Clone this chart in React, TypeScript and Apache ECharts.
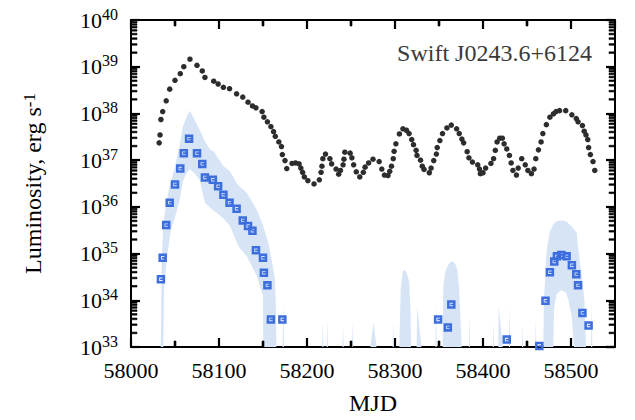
import React, { useEffect, useRef } from 'react';
import * as echarts from 'echarts';

// Black dots: [MJD, log10 L]
const batPoints: number[][] = [
  [58032, 37.37], [58033, 37.54], [58034, 37.87], [58036, 38.04], [58040, 38.27], [58044, 38.52],
  [58050, 38.71], [58056, 38.85], [58060, 39.0], [58067, 39.16], [58075, 39.03], [58081, 38.91],
  [58084, 38.77], [58094, 38.69], [58099, 38.63], [58105, 38.56], [58112, 38.53], [58120, 38.42],
  [58127, 38.35], [58133, 38.24], [58138, 38.16], [58142, 38.12], [58149, 38.04], [58151, 37.92],
  [58155, 37.82], [58159, 37.72], [58162, 37.61], [58164, 37.51], [58168, 37.39], [58171, 37.29],
  [58172, 37.12], [58175, 36.99], [58177, 36.82], [58183, 36.93], [58187, 36.94], [58191, 36.92],
  [58193, 36.83], [58195, 36.74], [58197, 36.64], [58201, 36.56], [58208, 36.49], [58214, 36.58],
  [58216, 36.74], [58217, 36.87], [58218, 37.03], [58221, 37.13], [58226, 37.03], [58228, 36.92],
  [58233, 36.81], [58236, 36.7], [58238, 36.78], [58241, 36.9], [58242, 37.02], [58243, 37.17],
  [58249, 37.15], [58251, 37.05], [58253, 36.9], [58256, 36.75], [58260, 36.64], [58264, 36.74],
  [58266, 36.85], [58270, 36.94], [58275, 37.02], [58282, 36.97], [58285, 36.81], [58288, 36.68],
  [58292, 36.67], [58294, 36.76], [58296, 36.87], [58298, 37.03], [58299, 37.19], [58301, 37.35],
  [58305, 37.56], [58309, 37.67], [58313, 37.64], [58316, 37.57], [58319, 37.44], [58321, 37.33],
  [58324, 37.21], [58325, 37.1], [58329, 37.0], [58331, 36.87], [58333, 36.8], [58339, 36.73],
  [58341, 36.83], [58344, 36.99], [58347, 37.13], [58348, 37.27], [58351, 37.42], [58354, 37.57],
  [58359, 37.69], [58364, 37.75], [58370, 37.67], [58373, 37.57], [58376, 37.45], [58378, 37.37],
  [58382, 37.18], [58384, 37.05], [58388, 36.96], [58394, 36.9], [58396, 36.81], [58397, 36.71],
  [58400, 36.73], [58403, 36.83], [58409, 36.93], [58412, 37.03], [58414, 37.21], [58416, 37.39],
  [58419, 37.47], [58422, 37.47], [58424, 37.35], [58427, 37.24], [58430, 37.1], [58432, 36.94],
  [58434, 36.78], [58438, 36.68], [58440, 36.83], [58444, 37.03], [58448, 36.9], [58451, 36.78],
  [58455, 36.71], [58458, 36.81], [58460, 37.03], [58463, 37.22], [58466, 37.39], [58468, 37.57],
  [58472, 37.76], [58476, 37.92], [58480, 37.99], [58483, 38.04], [58487, 38.06], [58494, 38.06],
  [58501, 37.97], [58506, 37.89], [58508, 37.82], [58513, 37.74], [58515, 37.62], [58517, 37.54],
  [58519, 37.44], [58520, 37.27], [58522, 37.12], [58525, 36.97], [58527, 36.78],
];

// Blue squares: [MJD, log10 L]
const sqPoints: number[][] = [
  [58034, 34.45], [58036, 34.91], [58040, 35.61], [58044, 36.09], [58050, 36.48], [58056, 36.82],
  [58060, 37.15], [58066, 37.46], [58075, 37.15], [58081, 36.92], [58084, 36.63], [58093, 36.58],
  [58099, 36.44], [58105, 36.26], [58112, 36.09], [58120, 35.96], [58127, 35.71], [58133, 35.59],
  [58138, 35.49], [58142, 35.07], [58150, 34.91], [58151, 34.59], [58155, 34.32], [58159, 33.59],
  [58172, 33.59], [58349, 33.59], [58360, 33.42], [58364, 33.91], [58427, 33.16], [58464, 33.02],
  [58471, 33.99], [58476, 34.6], [58481, 34.83], [58484, 34.94], [58489, 34.97], [58495, 34.94],
  [58501, 34.75], [58506, 34.56], [58508, 34.32], [58513, 33.73], [58520, 33.46],
];

// Confidence band regions: [MJD, log10 lower, log10 upper]
const bandMain: number[][] = [
  [58033.8, 33, 33], [58035.0, 33, 34.87], [58036.7, 33, 35.6], [58037.5, 34.23, 35.75],
  [58040.0, 34.75, 36.09], [58044.0, 35.37, 36.45], [58046.0, 35.55, 36.58], [58050.0, 35.78, 36.87],
  [58055.0, 36.12, 37.29], [58059.0, 36.55, 37.72], [58063.0, 36.72, 37.92], [58067.0, 36.81, 38.06],
  [58073.0, 36.7, 37.83], [58078.0, 36.58, 37.65], [58084.0, 36.09, 37.4], [58090.0, 35.98, 37.22],
  [58094.0, 35.92, 37.19], [58097.0, 35.88, 37.1], [58105.0, 35.75, 36.87], [58112.5, 35.59, 36.76],
  [58120.0, 35.25, 36.51], [58122.0, 35.16, 36.46], [58131.5, 34.94, 36.3], [58143.0, 34.52, 35.94],
  [58150.0, 34.09, 35.6], [58150.3, 33, 35.58], [58152.0, 33, 35.48], [58157.0, 33, 35.16],
  [58163.6, 33, 34.45], [58164.8, 33, 33.74], [58165.2, 33, 33],
];
const bandHump1: number[][] = [
  [58304.9, 33, 33], [58306.5, 33, 34.23], [58308.8, 33, 34.62], [58311.0, 33, 34.65],
  [58313.3, 33, 34.59], [58316.3, 33, 34.38], [58317.8, 33, 33.66], [58318.2, 33, 33],
];
const bandHump2: number[][] = [
  [58354.2, 33, 33], [58354.9, 33, 34.3], [58357.0, 33, 34.6], [58360.6, 33, 34.77],
  [58364.4, 33, 34.84], [58368.0, 33, 34.8], [58370.8, 33, 34.66], [58372.7, 33, 34.3], [58375.8, 33, 33],
];
const bandHump3: number[][] = [
  [58468.5, 33, 33], [58469.3, 33, 34.02], [58472.4, 33, 35.08], [58476.1, 33, 35.48],
  [58479.9, 33, 35.62], [58480.7, 33.81, 35.64], [58481.8, 33.95, 35.67], [58483.8, 34.13, 35.69],
  [58487.5, 34.2, 35.71], [58489.4, 34.22, 35.71], [58494.3, 34.16, 35.69], [58496.9, 34.02, 35.65],
  [58500.8, 33.66, 35.58], [58503.4, 33, 35.52], [58506.5, 33, 35.44], [58508.3, 33, 35.08],
  [58512.2, 33, 34.52], [58515.1, 33, 34.02], [58517.0, 33, 33],
];
const bandSmall: number[][][] = [
  [[58172.2, 33, 33], [58173.0, 33, 33.96], [58173.8, 33, 33]],
  [[58217.3, 33, 33], [58218.0, 33, 33.53], [58218.7, 33, 33]],
  [[58222.3, 33, 33], [58223.0, 33, 33.6], [58223.7, 33, 33]],
  [[58240.3, 33, 33], [58241.0, 33, 33.45], [58241.7, 33, 33]],
  [[58250.8, 33, 33], [58251.5, 33, 33.56], [58252.2, 33, 33]],
  [[58272.0, 33, 33], [58275.5, 33, 33.52], [58279.0, 33, 33]],
  [[58297.3, 33, 33], [58298.0, 33, 33.53], [58298.7, 33, 33]],
  [[58324.5, 33, 33], [58325.3, 33, 33.86], [58330.0, 33, 33]],
  [[58345.9, 33, 33], [58346.6, 33, 33.95], [58347.3, 33, 33]],
  [[58383.8, 33, 33], [58384.5, 33, 33.7], [58385.2, 33, 33]],
  [[58411.0, 33, 33], [58411.7, 33, 33.52], [58412.4, 33, 33]],
  [[58417.3, 33, 33], [58417.8, 33, 33.88], [58422.4, 33, 33]],
  [[58429.3, 33, 33], [58430.0, 33, 33.91], [58430.7, 33, 33]],
  [[58444.3, 33, 33], [58445.0, 33, 33.49], [58445.7, 33, 33]],
  [[58459.3, 33, 33], [58460.0, 33, 33.59], [58460.7, 33, 33]],
  [[58522.8, 33, 33], [58523.5, 33, 33.95], [58524.2, 33, 33]],
];

const xMajorTicks = [58000, 58100, 58200, 58300, 58400, 58500];
const xMinorTicks = [58050, 58150, 58250, 58350, 58450];
const yDecades = [33, 34, 35, 36, 37, 38, 39, 40];
const yMinorMultipliers = [2, 3, 4, 5, 6, 7, 8, 9];
const X_MIN = 58000;
const X_MAX = 58550;

const SERIF = '"Liberation Serif", "Times New Roman", serif';
const SQUARE_SYMBOL = 'path://M0 0H10V10H0Z M3 3V7H7V6H4V4H7V3Z';

export default function App() {
  const ref = useRef<HTMLDivElement>(null);
  useEffect(() => {
    if (!ref.current) return;
    const chart = echarts.init(ref.current, null, { renderer: 'svg' });
    const bandRegions = [bandMain, bandHump1, bandHump2, bandHump3, ...bandSmall];
    const yMinorExp: number[] = [];
    yDecades.slice(0, -1).forEach((d) => yMinorMultipliers.forEach((m) => yMinorExp.push(d + Math.log10(m))));
    const yMin = Math.pow(10, yDecades[0]);
    const yMax = Math.pow(10, yDecades[yDecades.length - 1]);

    const frame = () => ({ show: true, onZero: false, lineStyle: { color: '#000', width: 2 } });

    const tickRect = (x: number, y: number, w: number, h: number) => ({
      type: 'rect',
      shape: { x: Math.min(x, x + w), y: Math.min(y, y + h), width: Math.abs(w), height: Math.abs(h) },
      style: { fill: '#000', stroke: '#000', lineWidth: 0.6 },
    });

    const option: any = {
      animation: false,
      grid: { left: 131, right: 20, top: 20, bottom: 72 },
      graphic: [
        {
          type: 'text',
          x: 592,
          y: 53,
          style: {
            text: 'Swift J0243.6+6124',
            font: '24px "Liberation Serif"',
            fill: '#3a3a3a',
            align: 'right',
            textAlign: 'right',
            verticalAlign: 'middle',
            textVerticalAlign: 'middle',
          },
        },
      ],
      xAxis: [
        {
          type: 'value', min: X_MIN, max: X_MAX, interval: 100, position: 'bottom',
          splitLine: { show: false },
          axisLine: frame(),
          axisTick: { show: true, inside: true, length: 9, lineStyle: { color: '#000', width: 2.2 } },
          axisLabel: {
            show: true, showMaxLabel: false,
            formatter: (v: number) => String(v),
            fontSize: 22, color: '#000', margin: 12, fontFamily: SERIF,
          },
          name: 'MJD', nameLocation: 'middle', nameGap: 44,
          nameTextStyle: { fontSize: 24, color: '#000', fontFamily: SERIF },
        },
        {
          type: 'value', min: X_MIN, max: X_MAX, interval: 100, position: 'top',
          splitLine: { show: false }, axisLine: frame(), axisLabel: { show: false },
          axisTick: { show: true, inside: true, length: 9, lineStyle: { color: '#000', width: 2.2 } },
        },
      ],
      yAxis: [
        {
          type: 'log', logBase: 10, min: yMin, max: yMax, position: 'left',
          splitLine: { show: false },
          axisLine: frame(),
          axisTick: { show: true, inside: true, length: 9, lineStyle: { color: '#000', width: 2.2 } },
          axisLabel: {
            show: true, margin: 13,
            formatter: (v: number) => `{b|10}{s|${Math.round(Math.log10(v))}}`,
            rich: {
              b: { fontSize: 22, fontFamily: SERIF, color: '#000', lineHeight: 28 },
              s: { fontSize: 16, fontFamily: SERIF, color: '#000', lineHeight: 16, verticalAlign: 'top' },
            },
          },
          name: 'Luminosity, erg s{s|-1}', nameLocation: 'middle', nameRotate: 90, nameGap: 86,
          nameTextStyle: {
            fontSize: 24, color: '#000', fontFamily: SERIF,
            rich: { s: { fontSize: 17, fontFamily: SERIF, color: '#000', lineHeight: 17, verticalAlign: 'top' } },
          },
        },
        {
          type: 'log', logBase: 10, min: yMin, max: yMax, position: 'right',
          splitLine: { show: false }, axisLine: frame(), axisLabel: { show: false },
          axisTick: { show: true, inside: true, length: 9, lineStyle: { color: '#000', width: 2.2 } },
        },
      ],
      series: [
        {
          type: 'custom',
          coordinateSystem: 'cartesian2d',
          xAxisIndex: 0,
          yAxisIndex: 0,
          silent: true,
          clip: true,
          data: bandRegions.map((r) => [r[0][0], yMin]),
          encode: { x: 0, y: 1 },
          renderItem: (params: any, api: any) => {
            const r = bandRegions[params.dataIndex];
            const top = r.map((p) => api.coord([p[0], Math.pow(10, p[2])]));
            const bottom = r.slice().reverse().map((p) => api.coord([p[0], Math.pow(10, p[1])]));
            return {
              type: 'polygon',
              shape: { points: top.concat(bottom) },
              style: { fill: '#d6e4f6', stroke: 'none' },
            };
          },
          z: 1,
        },
        {
          type: 'scatter',
          xAxisIndex: 0,
          yAxisIndex: 0,
          symbol: SQUARE_SYMBOL,
          symbolSize: 8.5,
          itemStyle: { color: '#3d6ede', opacity: 1 },
          data: sqPoints.map((p) => [p[0], Math.pow(10, p[1])]),
          z: 3,
        },
        {
          type: 'scatter',
          xAxisIndex: 0,
          yAxisIndex: 0,
          symbol: 'circle',
          symbolSize: 5.5,
          itemStyle: { color: '#2d2d2d', opacity: 1 },
          data: batPoints.map((p) => [p[0], Math.pow(10, p[1])]),
          z: 4,
        },
        {
          // inward minor tick marks on all four sides, placed through the axes' own scales
          type: 'custom',
          coordinateSystem: 'cartesian2d',
          xAxisIndex: 0,
          yAxisIndex: 0,
          silent: true,
          clip: false,
          data: [[X_MIN, yMin]],
          encode: { x: 0, y: 1 },
          renderItem: (_params: any, api: any) => {
            const children: any[] = [];
            const xTick = (v: number, len: number) => {
              const b = api.coord([v, yMin]);
              const t = api.coord([v, yMax]);
              children.push(tickRect(b[0] - 1, b[1], 2, -len));
              children.push(tickRect(t[0] - 1, t[1], 2, len));
            };
            const yTick = (e: number, len: number) => {
              const l = api.coord([X_MIN, Math.pow(10, e)]);
              const r = api.coord([X_MAX, Math.pow(10, e)]);
              children.push(tickRect(l[0], l[1] - 0.8, len, 1.6));
              children.push(tickRect(r[0], r[1] - 0.8, -len, 1.6));
            };
            xMinorTicks.forEach((v) => xTick(v, 6));
            yMinorExp.forEach((e) => yTick(e, 6));
            return { type: 'group', children };
          },
          z: 6,
        },
      ],
    };
    chart.setOption(option);
    return () => chart.dispose();
  }, []);
  return <div ref={ref} style={{ position: 'fixed', left: 0, top: 0, width: 635, height: 420, background: '#fff' }} />;
}
